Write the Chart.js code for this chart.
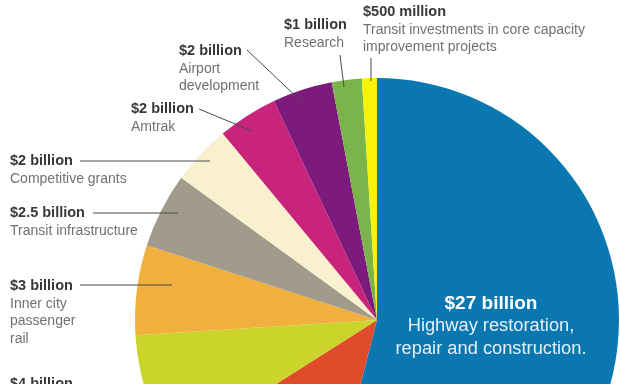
<!DOCTYPE html>
<html>
<head>
<meta charset="utf-8">
<script src="https://cdn.jsdelivr.net/npm/chart.js@4"></script>
<style>
    body { margin: 0; background: #fff; }
    #wrap { width: 620px; height: 384px; overflow: hidden; position: relative; }
</style>
</head>
<body>
<div id="wrap">
    <canvas id="grafico" width="620" height="600"></canvas>
</div>
<script>
// clockwise from 12 o'clock
let categorias = ['Highway restoration, repair and construction.', '', '', 'Inner city passenger rail', 'Transit infrastructure', 'Competitive grants', 'Amtrak', 'Airport development', 'Research', 'Transit investments in core capacity improvement projects']
let valores = [27, 6, 4, 3, 2.5, 2, 2, 2, 1, 0.5]
let rotulos = ['$27 billion', '$6 billion', '$4 billion', '$3 billion', '$2.5 billion', '$2 billion', '$2 billion', '$2 billion', '$1 billion', '$500 million']
let cores = ['#0a77b1', '#e04b2c', '#cbd42b', '#f1b03e', '#a19b8c', '#f9f1cd', '#c9247b', '#7d1b7d', '#7bb44b', '#f7f20a']

// label placement: x, baseline of bold line, text lines, leader line
let posicoes = [
    null,
    null,
    { x: 10, y: 388, linhas: [], linha: null },
    { x: 10, y: 290, linhas: ['Inner city', 'passenger', 'rail'], linha: [80, 285, 172, 285] },
    { x: 10, y: 217, linhas: ['Transit infrastructure'], linha: [93, 213, 178, 213] },
    { x: 10, y: 165, linhas: ['Competitive grants'], linha: [80, 161, 210, 161] },
    { x: 131, y: 113, linhas: ['Amtrak'], linha: [199, 109, 252, 131] },
    { x: 179, y: 55, linhas: ['Airport', 'development'], linha: [247, 50, 303, 103] },
    { x: 284, y: 29, linhas: ['Research'], linha: [340, 55, 344, 87] },
    { x: 363, y: 16, linhas: ['Transit investments in core capacity', 'improvement projects'], linha: [371, 58, 371, 81] }
]

const rotulosPlugin = {
    id: 'rotulos',
    afterDraw(chart) {
        let ctx = chart.ctx
        ctx.save()
        ctx.textBaseline = 'alphabetic'
        for (let i = 0; i < posicoes.length; i++) {
            let p = posicoes[i]
            if (!p) continue
            ctx.textAlign = 'left'
            ctx.fillStyle = '#383838'
            ctx.font = 'bold 14.5px "Liberation Sans", Arial, sans-serif'
            ctx.fillText(rotulos[i], p.x, p.y)
            ctx.fillStyle = '#707070'
            ctx.font = '14px "Liberation Sans", Arial, sans-serif'
            for (let j = 0; j < p.linhas.length; j++) {
                ctx.fillText(p.linhas[j], p.x, p.y + 17.7 * (j + 1))
            }
            if (p.linha) {
                ctx.strokeStyle = '#4a4a4a'
                ctx.lineWidth = 1
                ctx.beginPath()
                ctx.moveTo(p.linha[0], p.linha[1])
                ctx.lineTo(p.linha[2], p.linha[3])
                ctx.stroke()
            }
        }
        // big slice label
        ctx.textAlign = 'center'
        ctx.fillStyle = '#ffffff'
        ctx.font = 'bold 19px "Liberation Sans", Arial, sans-serif'
        ctx.fillText(rotulos[0], 491, 309)
        ctx.fillStyle = '#e4f0f8'
        ctx.font = '18.3px "Liberation Sans", Arial, sans-serif'
        ctx.fillText('Highway restoration,', 491, 331)
        ctx.fillText('repair and construction.', 491, 354)
        ctx.restore()
    }
}

let ctx = document.getElementById('grafico').getContext('2d')
new Chart(ctx, {
    type: 'pie',
    data: {
        labels: categorias,
        datasets: [{
            data: valores,
            backgroundColor: cores,
            borderWidth: 0
        }]
    },
    options: {
        responsive: false,
        animation: false,
        layout: {
            padding: { left: 135, top: 78, right: 1, bottom: 38 }
        },
        plugins: {
            legend: { display: false },
            tooltip: { enabled: false }
        }
    },
    plugins: [rotulosPlugin]
})
</script>
</body>
</html>
